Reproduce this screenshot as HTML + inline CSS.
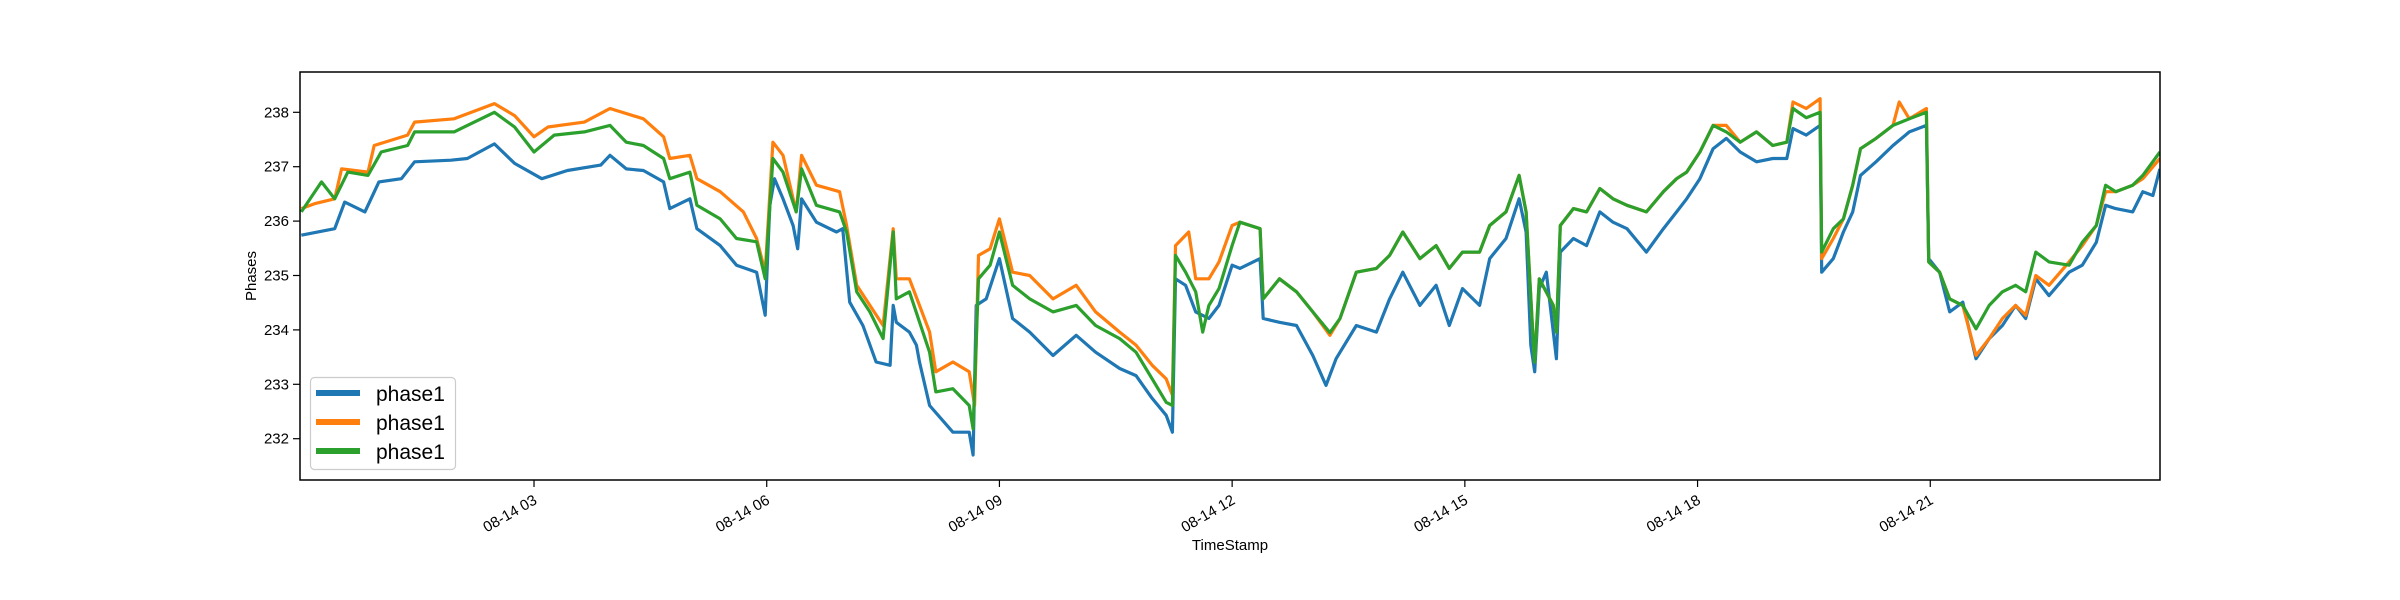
<!DOCTYPE html>
<html><head><meta charset="utf-8"><style>
html,body{margin:0;padding:0;background:#fff;}
svg{display:block;font-family:"Liberation Sans","DejaVu Sans",sans-serif;}
</style></head><body>
<svg id="chart" width="2400" height="600" viewBox="0 0 2400 600" xmlns="http://www.w3.org/2000/svg">
<rect x="0" y="0" width="2400" height="600" fill="#fff"/>
<defs><clipPath id="plotclip"><rect x="300" y="72" width="1860" height="408"/></clipPath></defs>
<g id="series" clip-path="url(#plotclip)"></g>
<rect x="300" y="72" width="1860" height="408" fill="none" stroke="#000" stroke-width="1.5"/>
<g id="yticks"></g>
<g id="xticks"></g>
<text x="0" y="0" font-size="15" text-anchor="middle" transform="translate(256,276) rotate(-90)">Phases</text>
<text x="1230" y="550" font-size="15" text-anchor="middle">TimeStamp</text>
<g>
<rect x="310.5" y="377.5" width="145" height="92" rx="4" fill="#fff" fill-opacity="0.8" stroke="#ccc" stroke-width="1.2"/>
<g><line x1="316" y1="393" x2="360" y2="393" stroke="#1f77b4" stroke-width="6"/><text x="376" y="401" font-size="21">phase1</text></g>
<g><line x1="316" y1="422" x2="360" y2="422" stroke="#ff7f0e" stroke-width="6"/><text x="376" y="430" font-size="21">phase1</text></g>
<g><line x1="316" y1="451" x2="360" y2="451" stroke="#2ca02c" stroke-width="6"/><text x="376" y="459" font-size="21">phase1</text></g>
</g>
</svg>
<script>
const yTickValues = [232,233,234,235,236,237,238];
const xTickHours = [3,6,9,12,15,18,21];
const xTickLabels = ["08-14 03","08-14 06","08-14 09","08-14 12","08-14 15","08-14 18","08-14 21"];

const blueHours = [0,0.43,0.56,0.82,1.0,1.29,1.46,1.93,2.14,2.49,2.75,3.1,3.43,3.86,3.98,4.19,4.41,4.67,4.75,5.01,5.1,5.4,5.61,5.87,5.98,6.04,6.1,6.21,6.34,6.4,6.45,6.64,6.9,6.98,7.07,7.24,7.41,7.59,7.63,7.67,7.84,7.93,7.97,8.1,8.4,8.61,8.66,8.7,8.83,9.0,9.17,9.39,9.69,9.99,10.24,10.55,10.76,10.97,11.15,11.23,11.27,11.4,11.53,11.7,11.83,12.0,12.1,12.36,12.4,12.61,12.83,13.04,13.21,13.34,13.6,13.86,14.03,14.2,14.42,14.63,14.8,14.97,15.19,15.32,15.53,15.7,15.79,15.85,15.9,15.96,16.05,16.14,16.18,16.23,16.4,16.57,16.74,16.91,17.09,17.34,17.56,17.73,17.86,18.03,18.2,18.37,18.55,18.76,18.97,19.15,19.23,19.4,19.58,19.6,19.75,19.88,20.0,20.1,20.3,20.52,20.73,20.95,20.98,21.12,21.25,21.42,21.59,21.76,21.93,22.1,22.23,22.36,22.53,22.79,22.96,23.14,23.26,23.39,23.61,23.74,23.87,23.96];
const blueValues = [235.74,235.86,236.35,236.17,236.72,236.78,237.09,237.12,237.15,237.42,237.06,236.78,236.93,237.03,237.21,236.96,236.93,236.72,236.23,236.41,235.86,235.55,235.19,235.06,234.27,236.29,236.78,236.41,235.92,235.49,236.41,235.98,235.8,235.86,234.51,234.08,233.41,233.35,234.45,234.14,233.96,233.72,233.41,232.61,232.12,232.12,231.7,234.45,234.57,235.31,234.21,233.96,233.53,233.9,233.59,233.29,233.16,232.74,232.43,232.12,234.94,234.82,234.33,234.21,234.45,235.19,235.13,235.31,234.21,234.14,234.08,233.53,232.98,233.47,234.08,233.96,234.57,235.06,234.45,234.82,234.08,234.76,234.45,235.31,235.68,236.41,235.8,233.72,233.23,234.76,235.06,233.96,233.47,235.43,235.68,235.55,236.17,235.98,235.86,235.43,235.86,236.17,236.41,236.78,237.33,237.52,237.27,237.09,237.15,237.15,237.7,237.58,237.76,235.06,235.31,235.8,236.17,236.84,237.09,237.39,237.64,237.76,235.31,235.06,234.33,234.51,233.47,233.84,234.08,234.45,234.21,234.94,234.63,235.06,235.19,235.61,236.29,236.23,236.17,236.54,236.47,236.96];

const orangeHours = [0,0.17,0.43,0.52,0.86,0.94,1.37,1.46,1.97,2.49,2.75,3.0,3.18,3.65,3.98,4.41,4.67,4.75,5.01,5.1,5.4,5.7,5.87,5.98,6.08,6.21,6.38,6.45,6.64,6.94,7.03,7.16,7.33,7.5,7.63,7.67,7.84,8.1,8.18,8.4,8.61,8.68,8.73,8.88,9.0,9.17,9.39,9.69,9.99,10.24,10.55,10.76,10.97,11.15,11.23,11.27,11.44,11.53,11.7,11.83,12.0,12.1,12.36,12.4,12.61,12.83,13.04,13.26,13.39,13.6,13.86,14.03,14.2,14.42,14.63,14.8,14.97,15.19,15.32,15.53,15.7,15.79,15.88,15.9,15.96,16.14,16.18,16.23,16.4,16.57,16.74,16.91,17.09,17.34,17.56,17.73,17.86,18.03,18.2,18.37,18.55,18.76,18.97,19.15,19.23,19.4,19.58,19.6,19.75,19.88,20.0,20.1,20.3,20.52,20.6,20.73,20.95,20.98,21.12,21.25,21.42,21.59,21.76,21.93,22.1,22.23,22.36,22.53,22.79,22.96,23.14,23.26,23.39,23.61,23.74,23.96];
const orangeValues = [236.23,236.32,236.41,236.96,236.9,237.39,237.58,237.82,237.88,238.16,237.94,237.55,237.73,237.82,238.07,237.88,237.55,237.15,237.21,236.78,236.54,236.17,235.68,235.06,237.45,237.21,236.17,237.21,236.66,236.54,235.92,234.82,234.45,234.08,235.86,234.94,234.94,233.96,233.23,233.41,233.23,232.61,235.37,235.49,236.04,235.06,235.0,234.57,234.82,234.33,233.96,233.72,233.35,233.1,232.8,235.55,235.8,234.94,234.94,235.25,235.92,235.98,235.86,234.57,234.94,234.7,234.33,233.9,234.21,235.06,235.13,235.37,235.8,235.31,235.55,235.13,235.43,235.43,235.92,236.17,236.84,236.17,233.84,233.41,234.94,234.45,233.96,235.92,236.23,236.17,236.6,236.41,236.29,236.17,236.54,236.78,236.9,237.27,237.76,237.76,237.45,237.64,237.39,237.45,238.19,238.07,238.25,235.31,235.68,236.04,236.66,237.33,237.52,237.76,238.19,237.88,238.07,235.25,235.06,234.57,234.45,233.53,233.84,234.21,234.45,234.27,235.0,234.82,235.25,235.55,235.92,236.54,236.54,236.66,236.78,237.15];

const greenHours = [0,0.26,0.43,0.6,0.86,1.03,1.37,1.46,1.97,2.49,2.75,3.0,3.26,3.65,3.98,4.19,4.41,4.67,4.75,5.01,5.1,5.4,5.61,5.87,5.98,6.08,6.21,6.38,6.45,6.64,6.94,7.03,7.16,7.33,7.5,7.63,7.67,7.84,8.1,8.18,8.4,8.61,8.66,8.73,8.88,9.0,9.17,9.39,9.69,9.99,10.24,10.55,10.76,10.97,11.15,11.23,11.27,11.4,11.53,11.62,11.7,11.83,12.0,12.1,12.36,12.4,12.61,12.83,13.04,13.26,13.39,13.6,13.86,14.03,14.2,14.42,14.63,14.8,14.97,15.19,15.32,15.53,15.7,15.79,15.88,15.9,15.96,16.14,16.18,16.23,16.4,16.57,16.74,16.91,17.09,17.34,17.56,17.73,17.86,18.03,18.2,18.37,18.55,18.76,18.97,19.15,19.23,19.4,19.58,19.6,19.75,19.88,20.0,20.1,20.3,20.52,20.73,20.95,20.98,21.12,21.25,21.42,21.59,21.76,21.93,22.1,22.23,22.36,22.53,22.79,22.96,23.14,23.26,23.39,23.61,23.74,23.96];
const greenValues = [236.17,236.72,236.41,236.9,236.84,237.27,237.39,237.64,237.64,238.0,237.73,237.27,237.58,237.64,237.76,237.45,237.39,237.15,236.78,236.9,236.29,236.04,235.68,235.62,234.94,237.15,236.9,236.17,236.96,236.29,236.17,235.8,234.7,234.33,233.84,235.8,234.57,234.7,233.59,232.86,232.92,232.61,232.18,234.94,235.19,235.8,234.82,234.57,234.33,234.45,234.08,233.84,233.59,233.1,232.67,232.61,235.37,235.06,234.7,233.96,234.45,234.76,235.55,235.98,235.86,234.57,234.94,234.7,234.33,233.95,234.21,235.06,235.13,235.37,235.8,235.31,235.55,235.13,235.43,235.43,235.92,236.17,236.84,236.17,233.84,233.41,234.94,234.45,233.96,235.92,236.23,236.17,236.6,236.41,236.29,236.17,236.54,236.78,236.9,237.27,237.76,237.64,237.45,237.64,237.39,237.45,238.07,237.9,238.0,235.43,235.86,236.04,236.66,237.33,237.52,237.76,237.88,238.0,235.25,235.06,234.57,234.45,234.02,234.45,234.7,234.82,234.7,235.43,235.25,235.19,235.61,235.92,236.66,236.54,236.66,236.84,237.27];

const SVGNS = "http://www.w3.org/2000/svg";
function xS(h){ return 301.3 + h * 77.57; }
function yS(v){ return 112.3 + (238 - v) * 54.4; }

const seriesG = document.getElementById('series');
function drawSeries(hours, values, color, name){
  const pts = hours.map((h,i) => xS(h).toFixed(1) + ',' + yS(values[i]).toFixed(1)).join(' ');
  const pl = document.createElementNS(SVGNS,'polyline');
  pl.setAttribute('points', pts);
  pl.setAttribute('fill','none');
  pl.setAttribute('stroke', color);
  pl.setAttribute('stroke-width','3.2');
  pl.setAttribute('stroke-linejoin','round');
  
  
  seriesG.appendChild(pl);
}
drawSeries(blueHours, blueValues, '#1f77b4', 'series-line-blue');
drawSeries(orangeHours, orangeValues, '#ff7f0e', 'series-line-orange');
drawSeries(greenHours, greenValues, '#2ca02c', 'series-line-green');

const yG = document.getElementById('yticks');
yTickValues.forEach(v => {
  const y = yS(v);
  const t = document.createElementNS(SVGNS,'line');
  t.setAttribute('x1', 293); t.setAttribute('x2', 300);
  t.setAttribute('y1', y); t.setAttribute('y2', y);
  t.setAttribute('stroke','#000'); t.setAttribute('stroke-width','1.2');
  
  
  yG.appendChild(t);
  const tx = document.createElementNS(SVGNS,'text');
  tx.setAttribute('x', 289); tx.setAttribute('y', y + 5);
  tx.setAttribute('text-anchor','end'); tx.setAttribute('font-size','15');
  tx.textContent = v;
  
  
  yG.appendChild(tx);
});

const xG = document.getElementById('xticks');
xTickHours.forEach((h,i) => {
  const x = xS(h);
  const t = document.createElementNS(SVGNS,'line');
  t.setAttribute('x1', x); t.setAttribute('x2', x);
  t.setAttribute('y1', 480); t.setAttribute('y2', 487);
  t.setAttribute('stroke','#000'); t.setAttribute('stroke-width','1.2');
  
  
  xG.appendChild(t);
  const tx = document.createElementNS(SVGNS,'text');
  tx.setAttribute('x', 0); tx.setAttribute('y', 0);
  tx.setAttribute('text-anchor','end'); tx.setAttribute('font-size','15');
  tx.setAttribute('transform', 'translate(' + (x + 4) + ',503) rotate(-30)');
  tx.textContent = xTickLabels[i];
  
  
  xG.appendChild(tx);
});
</script>
</body></html>
